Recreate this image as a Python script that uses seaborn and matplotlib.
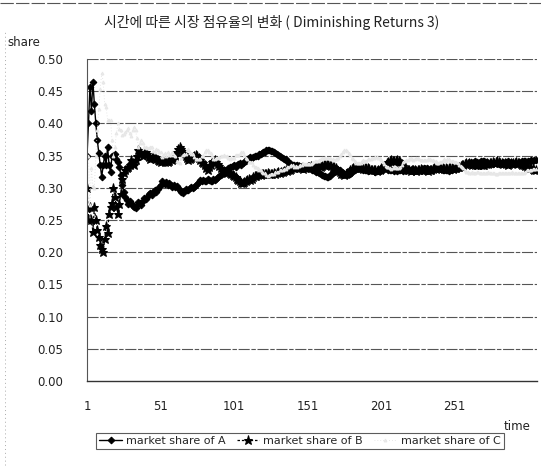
import numpy as np
import pandas as pd
import seaborn as sns
import matplotlib
matplotlib.use("Agg")
import matplotlib.pyplot as plt
from matplotlib.lines import Line2D
from matplotlib.ticker import MultipleLocator

sns.set_style("white")
plt.rcParams["font.family"] = ["DejaVu Sans"]

title = "시간에 따른 시장 점유율의 변화 ( Diminishing Returns 3)"
y_label = "share"
x_label = "time"
series_names = ["market share of A", "market share of B", "market share of C"]
x_tick_values = [1, 51, 101, 151, 201, 251]
y_tick_values = [0.00, 0.05, 0.10, 0.15, 0.20, 0.25, 0.30, 0.35, 0.40, 0.45, 0.50]

share_a = [
    0.350, 0.400, 0.457, 0.420, 0.465, 0.430, 0.400, 0.375, 0.354, 0.335,
    0.317, 0.335, 0.350, 0.335, 0.364, 0.335, 0.325, 0.350, 0.350, 0.352,
    0.345, 0.340, 0.333, 0.320, 0.304, 0.294, 0.286, 0.281, 0.275, 0.280,
    0.276, 0.272, 0.270, 0.268, 0.273, 0.278, 0.276, 0.274, 0.280, 0.284,
    0.282, 0.286, 0.290, 0.292, 0.289, 0.293, 0.296, 0.294, 0.298, 0.302,
    0.305, 0.310, 0.308, 0.306, 0.309, 0.305, 0.307, 0.304, 0.302, 0.304,
    0.301, 0.303, 0.300, 0.297, 0.293, 0.292, 0.295, 0.298, 0.296, 0.297,
    0.299, 0.301, 0.300, 0.302, 0.304, 0.306, 0.309, 0.312, 0.311, 0.312,
    0.310, 0.311, 0.313, 0.312, 0.310, 0.311, 0.313, 0.312, 0.314, 0.316,
    0.318, 0.320, 0.322, 0.323, 0.326, 0.328, 0.330, 0.332, 0.333, 0.334,
    0.335, 0.333, 0.335, 0.337, 0.338, 0.336, 0.338, 0.340, 0.342, 0.344,
    0.347, 0.348, 0.346, 0.348, 0.350, 0.349, 0.350, 0.352, 0.353, 0.354,
    0.355, 0.356, 0.358, 0.359, 0.358, 0.357, 0.357, 0.355, 0.354, 0.352,
    0.351, 0.350, 0.348, 0.347, 0.345, 0.344, 0.342, 0.340, 0.338, 0.336,
    0.335, 0.336, 0.334, 0.335, 0.334, 0.333, 0.334, 0.333, 0.333, 0.332,
    0.331, 0.330, 0.329, 0.328, 0.328, 0.326, 0.325, 0.324, 0.323, 0.322,
    0.320, 0.319, 0.318, 0.317, 0.317, 0.319, 0.321, 0.323, 0.325, 0.326,
    0.327, 0.328, 0.327, 0.325, 0.323, 0.322, 0.321, 0.320, 0.321, 0.322,
    0.324, 0.326, 0.328, 0.329, 0.330, 0.331, 0.330, 0.329, 0.328, 0.328,
    0.327, 0.326, 0.327, 0.328, 0.327, 0.326, 0.325, 0.326, 0.327, 0.326,
    0.327, 0.328, 0.329, 0.330, 0.329, 0.328, 0.327, 0.328, 0.327, 0.326,
    0.327, 0.326, 0.327, 0.328, 0.327, 0.326, 0.327, 0.328, 0.329, 0.328,
    0.327, 0.328, 0.329, 0.328, 0.327, 0.326, 0.327, 0.328, 0.329, 0.330,
    0.329, 0.330, 0.329, 0.328, 0.329, 0.328, 0.329, 0.330, 0.331, 0.330,
    0.330, 0.329, 0.328, 0.327, 0.328, 0.327, 0.326, 0.327, 0.328, 0.329,
    0.330, 0.329, 0.330, 0.331, 0.332, 0.333, 0.334, 0.336, 0.337, 0.338,
    0.339, 0.340, 0.339, 0.340, 0.341, 0.340, 0.339, 0.340, 0.341, 0.342,
    0.341, 0.340, 0.339, 0.338, 0.339, 0.338, 0.337, 0.338, 0.339, 0.338,
    0.337, 0.338, 0.339, 0.340, 0.339, 0.340, 0.341, 0.340, 0.339, 0.338,
    0.339, 0.338, 0.337, 0.338, 0.339, 0.340, 0.341, 0.342, 0.341, 0.340,
    0.341, 0.342, 0.343, 0.342, 0.343, 0.343,
]

share_b = [
    0.300, 0.250, 0.270, 0.250, 0.232, 0.270, 0.250, 0.235, 0.224, 0.211,
    0.205, 0.200, 0.220, 0.240, 0.230, 0.260, 0.270, 0.276, 0.300, 0.285,
    0.270, 0.260, 0.275, 0.290, 0.314, 0.323, 0.328, 0.330, 0.332, 0.335,
    0.343, 0.338, 0.335, 0.343, 0.350, 0.358, 0.355, 0.352, 0.350, 0.353,
    0.355, 0.352, 0.348, 0.345, 0.347, 0.350, 0.348, 0.345, 0.343, 0.342,
    0.340, 0.342, 0.341, 0.340, 0.341, 0.340, 0.342, 0.345, 0.343, 0.345,
    0.350, 0.355, 0.360, 0.364, 0.360, 0.357, 0.353, 0.350, 0.346, 0.343,
    0.345, 0.347, 0.348, 0.350, 0.351, 0.350, 0.347, 0.343, 0.340, 0.338,
    0.335, 0.331, 0.328, 0.332, 0.336, 0.340, 0.342, 0.343, 0.340, 0.337,
    0.334, 0.331, 0.328, 0.326, 0.324, 0.323, 0.324, 0.323, 0.321, 0.320,
    0.318, 0.316, 0.314, 0.312, 0.310, 0.308, 0.307, 0.309, 0.311, 0.312,
    0.313, 0.312, 0.314, 0.316, 0.318, 0.319, 0.320, 0.321, 0.320, 0.321,
    0.322, 0.321, 0.322, 0.323, 0.322, 0.321, 0.322, 0.323, 0.322, 0.323,
    0.324, 0.323, 0.324, 0.325, 0.326, 0.327, 0.326, 0.327, 0.328, 0.329,
    0.330, 0.331, 0.332, 0.333, 0.332, 0.331, 0.330, 0.329, 0.330, 0.331,
    0.332, 0.333, 0.334, 0.333, 0.332, 0.333, 0.334, 0.335, 0.334, 0.333,
    0.334, 0.335, 0.336, 0.337, 0.336, 0.335, 0.334, 0.333, 0.332, 0.330,
    0.328, 0.326, 0.324, 0.322, 0.321, 0.320, 0.321, 0.323, 0.325, 0.327,
    0.329, 0.330, 0.331, 0.332, 0.331, 0.330, 0.331, 0.330, 0.329, 0.330,
    0.331, 0.330, 0.329, 0.328, 0.327, 0.328, 0.327, 0.326, 0.327, 0.328,
    0.330, 0.332, 0.334, 0.336, 0.338, 0.340, 0.342, 0.343, 0.342, 0.341,
    0.342, 0.343, 0.342, 0.340, 0.337, 0.334, 0.331, 0.329, 0.328, 0.327,
    0.326, 0.327, 0.328, 0.327, 0.326, 0.327, 0.328, 0.329, 0.328, 0.327,
    0.328, 0.327, 0.326, 0.327, 0.328, 0.329, 0.330, 0.329, 0.330, 0.331,
    0.330, 0.331, 0.330, 0.329, 0.330, 0.329, 0.330, 0.331, 0.330, 0.329,
    0.330, 0.331, 0.332, 0.333, 0.334, 0.335, 0.336, 0.337, 0.338, 0.337,
    0.338, 0.337, 0.336, 0.337, 0.336, 0.335, 0.336, 0.337, 0.336, 0.335,
    0.336, 0.337, 0.338, 0.337, 0.338, 0.339, 0.340, 0.339, 0.340, 0.341,
    0.340, 0.339, 0.338, 0.337, 0.338, 0.337, 0.336, 0.337, 0.338, 0.337,
    0.338, 0.339, 0.340, 0.339, 0.338, 0.337, 0.336, 0.335, 0.334, 0.333,
    0.332, 0.331, 0.330, 0.329, 0.328, 0.328,
]

share_c = [
    0.350, 0.350, 0.273, 0.330, 0.303, 0.300, 0.350, 0.390, 0.422, 0.454,
    0.478, 0.465, 0.430, 0.425, 0.406, 0.405, 0.405, 0.374, 0.350, 0.363,
    0.385, 0.400, 0.392, 0.390, 0.382, 0.383, 0.386, 0.389, 0.393, 0.385,
    0.381, 0.390, 0.395, 0.389, 0.377, 0.364, 0.369, 0.374, 0.370, 0.363,
    0.363, 0.362, 0.362, 0.363, 0.364, 0.357, 0.356, 0.361, 0.359, 0.356,
    0.355, 0.348, 0.351, 0.354, 0.350, 0.355, 0.351, 0.351, 0.355, 0.351,
    0.349, 0.342, 0.340, 0.339, 0.347, 0.351, 0.352, 0.352, 0.358, 0.360,
    0.356, 0.352, 0.352, 0.348, 0.345, 0.344, 0.344, 0.345, 0.349, 0.350,
    0.355, 0.358, 0.359, 0.356, 0.354, 0.349, 0.345, 0.345, 0.346, 0.347,
    0.348, 0.349, 0.350, 0.351, 0.350, 0.349, 0.346, 0.345, 0.346, 0.346,
    0.347, 0.351, 0.351, 0.351, 0.352, 0.356, 0.355, 0.351, 0.347, 0.344,
    0.340, 0.340, 0.340, 0.336, 0.332, 0.332, 0.330, 0.327, 0.327, 0.325,
    0.323, 0.323, 0.320, 0.318, 0.320, 0.322, 0.321, 0.322, 0.324, 0.325,
    0.325, 0.327, 0.328, 0.328, 0.329, 0.329, 0.332, 0.333, 0.334, 0.335,
    0.335, 0.333, 0.334, 0.332, 0.334, 0.336, 0.336, 0.338, 0.337, 0.337,
    0.337, 0.337, 0.337, 0.339, 0.340, 0.341, 0.341, 0.341, 0.343, 0.345,
    0.346, 0.346, 0.346, 0.346, 0.347, 0.346, 0.345, 0.344, 0.343, 0.344,
    0.345, 0.346, 0.349, 0.353, 0.356, 0.358, 0.358, 0.357, 0.354, 0.351,
    0.347, 0.344, 0.341, 0.339, 0.339, 0.339, 0.339, 0.341, 0.343, 0.342,
    0.342, 0.344, 0.344, 0.344, 0.346, 0.346, 0.348, 0.348, 0.346, 0.346,
    0.343, 0.340, 0.337, 0.334, 0.333, 0.332, 0.331, 0.329, 0.331, 0.333,
    0.331, 0.331, 0.331, 0.332, 0.336, 0.340, 0.342, 0.343, 0.343, 0.345,
    0.347, 0.345, 0.343, 0.345, 0.347, 0.347, 0.345, 0.343, 0.343, 0.343,
    0.343, 0.343, 0.345, 0.345, 0.343, 0.343, 0.341, 0.341, 0.339, 0.339,
    0.340, 0.340, 0.342, 0.344, 0.342, 0.344, 0.344, 0.342, 0.342, 0.342,
    0.340, 0.340, 0.338, 0.336, 0.334, 0.332, 0.330, 0.327, 0.325, 0.325,
    0.323, 0.323, 0.325, 0.323, 0.323, 0.325, 0.325, 0.323, 0.323, 0.323,
    0.323, 0.323, 0.323, 0.325, 0.323, 0.323, 0.323, 0.323, 0.321, 0.321,
    0.323, 0.323, 0.323, 0.323, 0.323, 0.323, 0.323, 0.323, 0.323, 0.325,
    0.323, 0.323, 0.323, 0.323, 0.323, 0.323, 0.323, 0.323, 0.325, 0.327,
    0.327, 0.327, 0.327, 0.329, 0.329, 0.329,
]

time = list(range(1, len(share_a) + 1))

W, H = 541, 474
fig = plt.figure(figsize=(W / 100, H / 100), dpi=100)
ax = fig.add_axes([87 / W, 1 - 381 / H, (537 - 87) / W, (381 - 59) / H])

# horizontal gridlines
for v in y_tick_values[1:]:
    ax.axhline(v, color="#555555", lw=0.8, ls=(0, (10, 1.5, 4, 1.5)), zorder=0)

styles = [
    dict(color="black", marker="D", markersize=3.4, lw=1.0, ls="-",
         markeredgecolor="black", markerfacecolor="black"),
    dict(color="black", marker="*", markersize=6.5, lw=0.9, ls=(0, (2, 1.5)),
         markeredgecolor="black", markerfacecolor="black"),
    dict(color="#e0e0e0", marker="^", markersize=2.0, lw=0.6, ls=(0, (1, 2.5)),
         markeredgecolor="#e6e6e6", markerfacecolor="#eeeeee"),
]
for name, vals, st in zip(series_names, [share_a, share_b, share_c], styles):
    df = pd.DataFrame({"time": time, "share": vals})
    sns.lineplot(data=df, x="time", y="share", ax=ax, label=name,
                 estimator=None, sort=False, **st)

ax.set_xlim(1, len(time) + 1)
ax.set_ylim(0, 0.5)
ax.set_yticks(y_tick_values)
ax.set_yticklabels([f"{v:.2f}" for v in y_tick_values])
ax.set_xticks(x_tick_values)
ax.set_xticklabels([str(v) for v in x_tick_values])
ax.xaxis.set_minor_locator(MultipleLocator(1))
ax.tick_params(axis="y", length=0, pad=17, labelsize=8.5, colors="#222222")
ax.tick_params(axis="x", which="major", length=0, pad=14, labelsize=8.5,
               colors="#222222")
ax.tick_params(axis="x", which="minor", length=2.5, width=0.6,
               direction="inout", color="#333333")
ax.set_xlabel("")
ax.set_ylabel("")

for side in ["top", "right"]:
    ax.spines[side].set_visible(False)
ax.spines["left"].set_color("#555555")
ax.spines["left"].set_linewidth(0.8)
ax.spines["bottom"].set_color("#333333")
ax.spines["bottom"].set_linewidth(1.0)

ax.get_legend().remove()
handles, labels = ax.get_legend_handles_labels()
leg = fig.legend(handles, labels, loc="center",
                 bbox_to_anchor=(300 / W, 1 - 441 / H), ncol=3,
                 frameon=True, fancybox=False, fontsize=8,
                 handlelength=2.0, handletextpad=0.4, columnspacing=1.0,
                 borderpad=0.3, borderaxespad=0)
leg.get_frame().set_edgecolor("#333333")
leg.get_frame().set_linewidth(0.8)

fig.text(272 / W, 1 - 22 / H, title, ha="center", va="center", fontsize=10,
         family=["Noto Sans CJK KR", "DejaVu Sans"], color="#222222")
fig.text(7 / W, 1 - 43 / H, y_label, ha="left", va="center", fontsize=8.5,
         color="#222222")
fig.text(531 / W, 1 - 426 / H, x_label, ha="right", va="center", fontsize=8.5,
         color="#222222")

# outer chart frame edges
fig.add_artist(Line2D([0, 1], [1 - 3 / H, 1 - 3 / H], color="#555555",
                      lw=0.8, ls=(0, (12, 2))))
fig.add_artist(Line2D([5 / W, 5 / W], [0.02, 1 - 30 / H], color="#aaaaaa",
                      lw=0.7, ls=(0, (1, 3))))

fig.savefig("out.png", dpi=100, facecolor="white")
